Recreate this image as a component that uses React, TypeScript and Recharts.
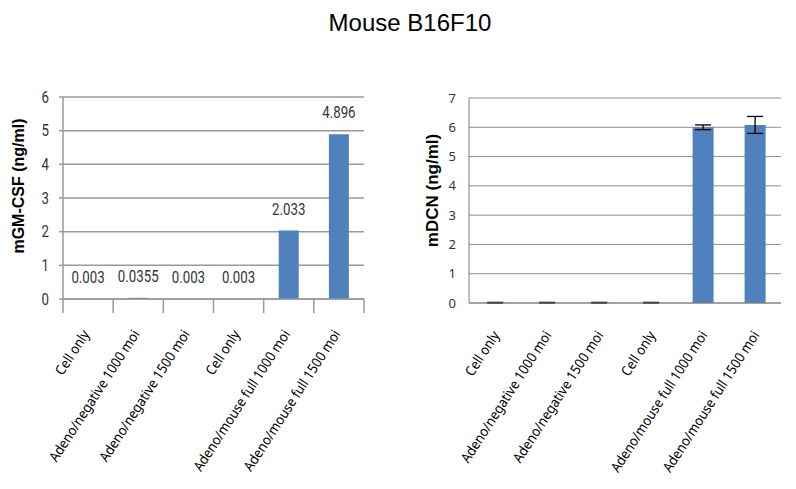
import React from "react";
import {
  BarChart,
  Bar,
  XAxis,
  YAxis,
  CartesianGrid,
  LabelList,
  ErrorBar,
  Label,
} from "recharts";

const categories = [
  "Cell only",
  "Adeno/negative 1000 moi",
  "Adeno/negative 1500 moi",
  "Cell only",
  "Adeno/mouse full 1000 moi",
  "Adeno/mouse full 1500 moi",
];

const gmcsfValues = [0.003, 0.0355, 0.003, 0.003, 2.033, 4.896];
const gmcsfLabels = ["0.003", "0.0355", "0.003", "0.003", "2.033", "4.896"];
const gmcsfTicks = [0, 1, 2, 3, 4, 5, 6];

const dcnValues = [0.01, 0.01, 0.01, 0.01, 6.0, 6.08];
const dcnErrors = [0.01, 0.01, 0.01, 0.01, 0.08, 0.29];
const dcnTicks = [0, 1, 2, 3, 4, 5, 6, 7];

const leftData = categories.map((name, i) => ({
  name,
  value: gmcsfValues[i],
  label: gmcsfLabels[i],
}));

const rightData = categories.map((name, i) => ({
  name,
  value: dcnValues[i],
  err: dcnErrors[i],
}));

const BAR_COLOR = "#4F81BD";
const NARROW = "Roboto, 'Liberation Sans', sans-serif";
const NARROW_SCALE = 0.78;
const LABEL_FONT = "'Noto Sans', 'Open Sans', sans-serif";

// Left chart geometry
const L_W = 400;
const L_H = 489;
const L_MARGIN = { top: 97, right: 36, bottom: 0, left: 0 };
const L_YW = 63;
const L_STEP = (L_W - L_MARGIN.left - L_MARGIN.right - L_YW) / categories.length;

// Right chart geometry
const R_W = 396;
const R_H = 489;
const R_MARGIN = { top: 98, right: 15, bottom: 0, left: 0 };
const R_YW = 69;

function XTick(props: any) {
  const { x, y, payload, index, step, lines, offX, offY, lineColor } = props;
  const tx = x + offX;
  const ty = y + offY;
  return (
    <g>
      {lines && (
        <line x1={x - step / 2} x2={x - step / 2} y1={y} y2={y + 14} stroke={lineColor} strokeWidth={1.5} />
      )}
      {lines && index === categories.length - 1 && (
        <line x1={x + step / 2} x2={x + step / 2} y1={y} y2={y + 14} stroke={lineColor} strokeWidth={1.5} />
      )}
      <text
        transform={`translate(${tx} ${ty}) rotate(-57) scale(0.91 1)`}
        textAnchor="end"
        fontSize={14}
        fontFamily={LABEL_FONT}
        fill="#000"
      >
        {payload.value}
      </text>
    </g>
  );
}

function NarrowYTick(props: any) {
  const { x, y, payload } = props;
  return (
    <text
      transform={`translate(${x} ${y}) scale(${NARROW_SCALE} 1)`}
      textAnchor="end"
      dominantBaseline="central"
      fontSize={17}
      fontFamily={NARROW}
      fill="#333"
    >
      {payload.value}
    </text>
  );
}

function NarrowBarLabel(props: any) {
  const { x, y, width, value } = props;
  const cx = x + width / 2;
  const by = y - 16;
  return (
    <text
      transform={`translate(${cx} ${by}) scale(${NARROW_SCALE} 1)`}
      textAnchor="middle"
      fontSize={17}
      fontFamily={NARROW}
      fill="#333"
    >
      {value}
    </text>
  );
}

function YTitle(props: any) {
  const { viewBox, text, dx, dy, size } = props;
  const cx = viewBox.x + viewBox.width / 2 + dx;
  const cy = viewBox.y + viewBox.height / 2 + dy;
  return (
    <text
      x={cx}
      y={cy}
      transform={`rotate(-90 ${cx} ${cy})`}
      textAnchor="middle"
      dominantBaseline="central"
      fontSize={size}
      fontWeight="bold"
      fontFamily="'Liberation Sans', Arial, sans-serif"
      fill="#000"
    >
      {text}
    </text>
  );
}

export default function App() {
  return (
    <div
      style={{
        position: "fixed",
        left: 0,
        top: 0,
        width: 796,
        height: 489,
        background: "#fff",
        overflow: "hidden",
      }}
    >
      <div
        style={{
          position: "absolute",
          left: 0,
          top: 9,
          width: 820,
          height: 28,
          lineHeight: "28px",
          textAlign: "center",
          fontSize: 24,
          fontFamily: "'Liberation Sans', Arial, sans-serif",
          color: "#000",
        }}
      >
        Mouse B16F10
      </div>

      <div style={{ position: "absolute", left: 0, top: 0 }}>
        <BarChart width={L_W} height={L_H} data={leftData} margin={L_MARGIN} barCategoryGap="30%">
          <CartesianGrid horizontal vertical={false} stroke="#9a9a9a" strokeWidth={1.5} />
          <XAxis
            dataKey="name"
            height={190}
            interval={0}
            tickLine={false}
            tickSize={0}
            tickMargin={0}
            axisLine={{ stroke: "#9a9a9a", strokeWidth: 1.5 }}
            tick={<XTick step={L_STEP} lines offX={2} offY={35} lineColor="#9a9a9a" />}
          />
          <YAxis
            width={L_YW}
            domain={[0, 6]}
            ticks={gmcsfTicks}
            interval={0}
            tickSize={4}
            tickMargin={10}
            tickLine={{ stroke: "#9a9a9a", strokeWidth: 1.5 }}
            axisLine={{ stroke: "#9a9a9a", strokeWidth: 1.5 }}
            tick={<NarrowYTick />}
          >
            <Label content={(p: any) => <YTitle {...p} text="mGM-CSF (ng/ml)" dx={-13.5} dy={-12} size={16} />} />
          </YAxis>
          <Bar dataKey="value" fill={BAR_COLOR} isAnimationActive={false}>
            <LabelList dataKey="label" content={<NarrowBarLabel />} />
          </Bar>
        </BarChart>
      </div>

      <div style={{ position: "absolute", left: 400, top: 0 }}>
        <BarChart width={R_W} height={R_H} data={rightData} margin={R_MARGIN} barCategoryGap="30%">
          <CartesianGrid horizontal vertical={false} stroke="#8c8c8c" strokeWidth={1} />
          <XAxis
            dataKey="name"
            height={186}
            interval={0}
            tickLine={false}
            tickSize={0}
            tickMargin={0}
            axisLine={{ stroke: "#808080", strokeWidth: 1 }}
            tick={<XTick step={0} lines={false} offX={5} offY={32} lineColor="#808080" />}
          />
          <YAxis
            width={R_YW}
            domain={[0, 7]}
            ticks={dcnTicks}
            interval={0}
            tickLine={false}
            tickSize={0}
            tickMargin={13}
            axisLine={{ stroke: "#808080", strokeWidth: 1 }}
            tick={{ fontSize: 13, fontFamily: LABEL_FONT, fill: "#333" }}
          >
            <Label content={(p: any) => <YTitle {...p} text="mDCN (ng/ml)" dx={-2.5} dy={-10} size={17} />} />
          </YAxis>
          <Bar dataKey="value" fill={BAR_COLOR} isAnimationActive={false}>
            <ErrorBar dataKey="err" width={8} stroke="#000" strokeWidth={1.3} direction="y" />
          </Bar>
        </BarChart>
      </div>
    </div>
  );
}
